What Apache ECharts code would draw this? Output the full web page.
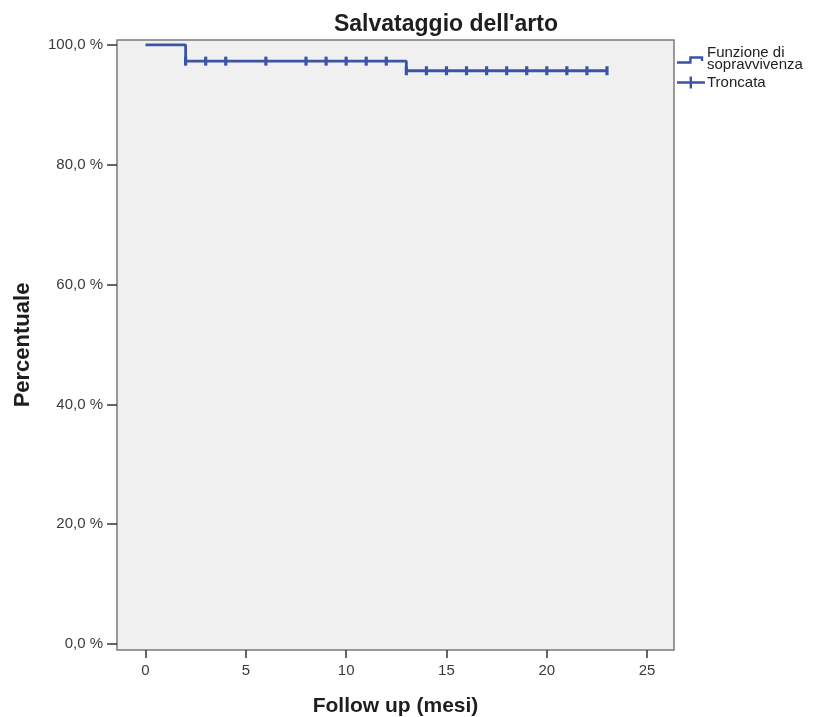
<!DOCTYPE html>
<html>
<head>
<meta charset="utf-8">
<script src="https://cdn.jsdelivr.net/npm/echarts@6/dist/echarts.min.js"></script>
<style>
html,body{margin:0;padding:0;background:#fff;}
#chart{width:815px;height:717px;}
</style>
</head>
<body>
<div id="chart"></div>
<script>
// Kaplan-Meier survival function (step points)
const survTimes = [0, 2, 13, 23];
const survValues = [100, 97.3, 95.7, 95.7];
// Censored observations (Troncata)
const censorTimes = [2, 3, 4, 6, 8, 9, 10, 11, 12, 13, 14, 15, 16, 17, 18, 19, 20, 21, 22, 23];
const censorValues = [97.3, 97.3, 97.3, 97.3, 97.3, 97.3, 97.3, 97.3, 97.3,
                      95.7, 95.7, 95.7, 95.7, 95.7, 95.7, 95.7, 95.7, 95.7, 95.7, 95.7];
const xTicks = [0, 5, 10, 15, 20, 25];
const yTicks = [0, 20, 40, 60, 80, 100];
const seriesNames = ['Funzione di sopravvivenza', 'Troncata'];
const legendLabels = ['Funzione di\nsopravvivenza', 'Troncata'];

const blue = '#3b54a6';
const font = '"Liberation Sans", Arial, sans-serif';

const stepIcon = 'path://M0,0 L0.01,0 L0,0.01 Z M28,12 L27.99,12 L28,11.99 Z ' +
  'M0,8.8 L12.2,8.8 L12.2,3.8 L26.2,3.8 L26.2,8.5 L23.8,8.5 L23.8,6.2 L14.6,6.2 L14.6,11.2 L0,11.2 Z';
const plusIcon = 'path://M0,4.8 L12.6,4.8 L12.6,0 L15,0 L15,4.8 L28,4.8 L28,7.2 L15,7.2 L15,12 L12.6,12 L12.6,7.2 L0,7.2 Z';

const chart = echarts.init(document.getElementById('chart'), null, {renderer: 'canvas'});
chart.setOption({
  backgroundColor: '#ffffff',
  animation: false,
  title: {
    text: "Salvataggio dell'arto",
    left: 441, top: 8, textAlign: 'center',
    textStyle: {fontFamily: font, fontSize: 23, fontWeight: 'bold', color: '#1e1e1e'}
  },
  legend: {
    orient: 'vertical',
    left: 677, top: 45,
    itemWidth: 28, itemHeight: 12, itemGap: 3,
    padding: 0,
    selectedMode: false,
    itemStyle: {borderWidth: 0},
    textStyle: {fontFamily: font, fontSize: 15, lineHeight: 12, color: '#222', padding: [0, 0, 0, -3]},
    data: [
      {name: seriesNames[0], icon: stepIcon},
      {name: seriesNames[1], icon: plusIcon}
    ],
    formatter: function (name) { return legendLabels[seriesNames.indexOf(name)]; }
  },
  grid: {
    left: 117, right: 141, top: 40, bottom: 67,
    outerBoundsMode: 'none', containLabel: false,
    show: true, backgroundColor: '#f0f0f0', borderColor: '#7b7b7b', borderWidth: 1.5
  },
  xAxis: {
    type: 'value', min: -1.42, max: 26.34,
    name: 'Follow up (mesi)', nameLocation: 'middle', nameGap: 46,
    nameTextStyle: {fontFamily: font, fontSize: 21, fontWeight: 'bold', color: '#1e1e1e'},
    axisLine: {show: false, onZero: false},
    splitLine: {show: false},
    axisTick: {show: true, customValues: xTicks, length: 8, lineStyle: {color: '#333', width: 1.5}},
    axisLabel: {customValues: xTicks, margin: 13, fontFamily: font, fontSize: 15, color: '#3a3a3a'}
  },
  yAxis: {
    type: 'value', min: -1.0, max: 100.83,
    name: 'Percentuale', nameLocation: 'middle', nameRotate: 90, nameGap: 83,
    nameTextStyle: {fontFamily: font, fontSize: 22, fontWeight: 'bold', color: '#1e1e1e'},
    axisLine: {show: false, onZero: false},
    splitLine: {show: false},
    axisTick: {show: true, customValues: yTicks, length: 10, lineStyle: {color: '#333', width: 1.5}},
    axisLabel: {
      customValues: yTicks, margin: 14, fontFamily: font, fontSize: 15, color: '#3a3a3a',
      formatter: function (v) { return v.toFixed(1).replace('.', ',') + ' %'; }
    }
  },
  series: [
    {
      name: seriesNames[0], type: 'line', step: 'end',
      showSymbol: false, symbol: 'none',
      itemStyle: {color: blue},
      lineStyle: {color: blue, width: 2.8},
      data: survTimes.map((t, i) => [t, survValues[i]]),
      z: 2
    },
    {
      name: seriesNames[1], type: 'scatter',
      symbol: 'rect', symbolSize: [3.2, 9],
      itemStyle: {color: blue, opacity: 1},
      data: censorTimes.map((t, i) => [t, censorValues[i]]),
      z: 3
    }
  ]
});
</script>
</body>
</html>
